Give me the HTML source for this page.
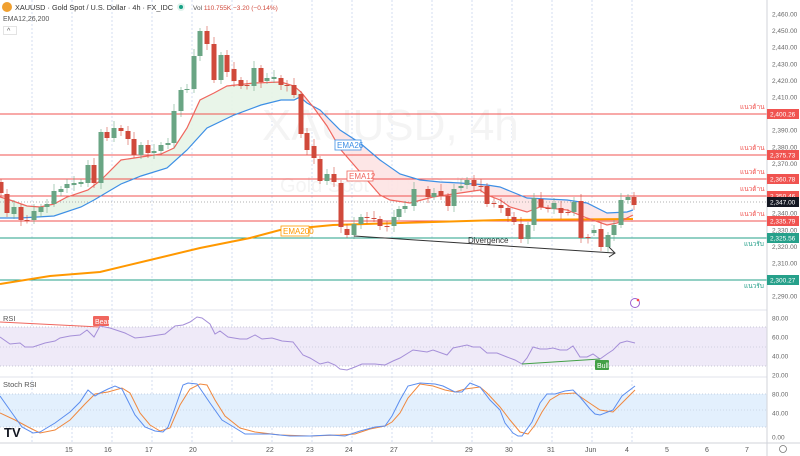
<!DOCTYPE html>
<html><head><meta charset="utf-8"><style>
body{margin:0;background:#fff;width:800px;height:456px;overflow:hidden;font-family:"Liberation Sans","Noto Sans CJK SC",sans-serif}
svg{display:block}
text{font-family:"Liberation Sans","Noto Sans CJK SC",sans-serif}
</style></head><body>
<svg id="s" width="800" height="456" xmlns="http://www.w3.org/2000/svg">
<rect width="800" height="456" fill="#fff"/>
<g id="grid" stroke="#d3ddf0" stroke-dasharray="2,2" stroke-width="1"></g>
<text x="262" y="140" font-size="44" fill="#f4f4f4">XAUUSD, 4h</text>
<text x="280" y="192" font-size="20" fill="#f4f4f4">Gold Spot / U.S. Dollar</text>
<polygon id="fillG" fill="#e7f4e7" opacity="0.9"/>
<polygon id="fillR" fill="#fde3e3" opacity="0.9"/>
<g id="hl"></g>
<line x1="0" y1="202" x2="767" y2="202" stroke="#999" stroke-dasharray="1,2" stroke-width="0.7"/>
<polyline id="e200" fill="none" stroke="#ff9800" stroke-width="2"/>
<polyline id="e26" fill="none" stroke="#3d8fe5" stroke-width="1.2"/>
<polyline id="e12" fill="none" stroke="#f0665e" stroke-width="1.2"/>
<g id="candles"></g>
<line x1="354" y1="236" x2="614" y2="253" stroke="#333" stroke-width="1"/>
<polyline points="609,247 615,253 609,257" fill="none" stroke="#333" stroke-width="1"/>
<text x="468" y="243" font-size="8" fill="#333">Divergence</text>
<rect x="335" y="140" width="26" height="10" fill="#fff" stroke="#3d8fe5" stroke-width="0.8"/>
<text x="337" y="148" font-size="8" fill="#3d8fe5">EMA26</text>
<rect x="347" y="171" width="26" height="10" fill="#fff" stroke="#f0665e" stroke-width="0.8"/>
<text x="349" y="179" font-size="8" fill="#f0665e">EMA12</text>
<rect x="281" y="226" width="28" height="10" fill="#fff" stroke="#ff9800" stroke-width="0.8"/>
<text x="283" y="234" font-size="8" fill="#ff9800">EMA200</text>
<circle cx="635" cy="303" r="4.5" fill="#fff" stroke="#9c5fd0" stroke-width="1"/>
<circle cx="638" cy="300" r="1.3" fill="#f44"/>
<line x1="0" y1="310" x2="767" y2="310" stroke="#e0e3eb"/>
<rect x="0" y="327" width="767" height="39" fill="#efeaf8"/>
<line x1="0" y1="327" x2="767" y2="327" stroke="#b8b8c8" stroke-dasharray="1,2" stroke-width="0.7"/>
<line x1="0" y1="347" x2="767" y2="347" stroke="#c8c8d8" stroke-dasharray="1,2" stroke-width="0.7"/>
<line x1="0" y1="366" x2="767" y2="366" stroke="#b8b8c8" stroke-dasharray="1,2" stroke-width="0.7"/>
<text x="3" y="321" font-size="7.5" fill="#555">RSI</text>
<line x1="0" y1="322" x2="100" y2="327" stroke="#f0665e" stroke-width="1"/>
<rect x="93" y="316" width="16" height="10" fill="#f0665e" rx="1"/>
<text x="95" y="324" font-size="7" fill="#fff">Bear</text>
<polyline id="rsi" fill="none" stroke="#a58fd8" stroke-width="1"/>
<line x1="522" y1="364" x2="600" y2="359" stroke="#43a047" stroke-width="1"/>
<rect x="595" y="360" width="14" height="10" fill="#43a047" rx="1"/>
<text x="597" y="368" font-size="7" fill="#fff">Bull</text>
<line x1="0" y1="377" x2="767" y2="377" stroke="#e0e3eb"/>
<rect x="0" y="394" width="767" height="33" fill="#e3f0fd"/>
<line x1="0" y1="394" x2="767" y2="394" stroke="#b8c4d8" stroke-dasharray="1,2" stroke-width="0.7"/>
<line x1="0" y1="410" x2="767" y2="410" stroke="#c8d0e0" stroke-dasharray="1,2" stroke-width="0.7"/>
<line x1="0" y1="427" x2="767" y2="427" stroke="#b8c4d8" stroke-dasharray="1,2" stroke-width="0.7"/>
<text x="3" y="387" font-size="7.5" fill="#555">Stoch RSI</text>
<polyline id="sd" fill="none" stroke="#f0883e" stroke-width="1"/>
<polyline id="sk" fill="none" stroke="#5b8def" stroke-width="1"/>
<text x="4" y="437" font-size="13" font-weight="bold" fill="#131722">TV</text>
<line x1="0" y1="443" x2="800" y2="443" stroke="#d0d3da"/>
<line x1="767" y1="0" x2="767" y2="456" stroke="#d0d3da"/>
<g id="axis" font-size="6.5" fill="#666"></g>
<g id="time" font-size="7" fill="#555"></g>
<circle cx="783" cy="449" r="3.5" fill="none" stroke="#777" stroke-width="0.8"/>
<circle cx="7" cy="7" r="5" fill="#f0a030"/>
<text x="15" y="10" font-size="7.6" fill="#333" textLength="158" lengthAdjust="spacingAndGlyphs">XAUUSD · Gold Spot / U.S. Dollar · 4h · FX_IDC</text>
<circle cx="181" cy="7" r="4" fill="#e0f2ec"/><circle cx="181" cy="7" r="2" fill="#16a085"/>
<text x="193" y="10" font-size="6.5" fill="#555">Vol <tspan fill="#d0493b">110.755K</tspan>  <tspan fill="#d0493b">−3.20 (−0.14%)</tspan></text>
<text x="3" y="21" font-size="7" fill="#555">EMA12,26,200</text>
<rect x="3.5" y="26.5" width="13" height="8" fill="#fff" stroke="#ddd" stroke-width="0.8"/>
<text x="7" y="33" font-size="7" fill="#555">^</text>
</svg>
<script>
const NS="http://www.w3.org/2000/svg";
function el(p,t,a,txt){const e=document.createElementNS(NS,t);for(const k in a)e.setAttribute(k,a[k]);if(txt!=null)e.textContent=txt;document.getElementById(p).appendChild(e);return e;}
for(let x=32;x<=632;x+=40)el("grid","line",{x1:x,y1:0,x2:x,y2:443});
const R="#f05350",G="#26a08a";
[[114],[155],[179],[196],[221]].forEach(([y])=>{
 el("hl","line",{x1:0,y1:y,x2:767,y2:y,stroke:R,"stroke-width":1});
 el("hl","text",{x:740,y:y-5,"font-size":6.5,fill:R},"แนวต้าน");
});
[[238],[280]].forEach(([y])=>{
 el("hl","line",{x1:0,y1:y,x2:767,y2:y,stroke:G,"stroke-width":1});
 el("hl","text",{x:744,y:y+8,"font-size":6.5,fill:G},"แนวรับ");
});
for(let p=2460;p>=2290;p-=10){const y=14+(2460-p)*1.66;el("axis","text",{x:772,y:y+2.5},"2,"+String(p).slice(1)+".00");}
[["80.00",318],["60.00",337],["40.00",356],["20.00",375],["80.00",394],["40.00",413],["0.00",437]].forEach(([t,y])=>el("axis","text",{x:772,y:y+2.5},t));
[[114,"2,400.26",R],[155,"2,375.73",R],[179,"2,360.78",R],[196,"2,350.46",R],[202,"2,347.00","#131722"],[221,"2,335.79",R],[238,"2,325.56",G],[280,"2,300.27",G]].forEach(([y,t,c])=>{
 el("axis","rect",{x:767,y:y-5,width:32,height:10,fill:c});
 el("axis","text",{x:770,y:y+2.5,fill:"#fff"},t);
});
[["15",68],["16",107],["17",148],["20",192],["22",269],["23",309],["24",348],["27",393],["29",468],["30",508],["31",550],["Jun",588],["4",628],["5",668],["6",708],["7",748]].forEach(([t,x])=>el("time","text",{x:x-3,y:452},t));
const C=[[1,182,193],[7,194,213],[14,214,207],[21,207,220],[27,220,220.5],[34,220,211],[41,212,207],[47,207,204],[54,204,191],[61,192,189],[67,188,184],[74,185,183],[81,184,182],[88,183,165],[94,165,183],[101,183,132],[107,132,138],[114,138,128],[121,128,131],[128,131,139],[134,139,155],[141,155,145],[148,145,153],[154,153,151],[161,151,145],[168,145,143],[174,143,111],[181,111,90],[187,90,89],[194,89,56],[200,56,31],[207,31,44],[214,44,80],[221,80,55],[227,55,72],[234,69,81],[241,80,86],[247,85,85.5],[254,86,68],[261,68,82],[267,81,78],[274,79,77],[281,78,85],[287,85,85.5],[294,85,95],[301,94,134],[307,133,150],[314,146,158],[320,159,181],[327,181,174],[334,174,182],[341,183,227],[347,229,235],[354,235,224],[361,224,217],[367,217,217.5],[374,218,219],[380,219,226],[387,226,226.5],[394,226,217],[399,217,209],[405,209,206],[414,206,189],[428,189,197],[434,197,193],[441,191,196],[448,196,206],[454,206,189],[461,188,186],[467,185,180],[474,180,186],[481,186,186.5],[487,186,204],[494,203,203.5],[501,205,208],[508,208,216],[514,217,222],[521,224,239],[528,239,225],[534,225,198],[541,199,207],[548,208,208.5],[554,209,203],[561,208,213],[568,212,212.5],[574,212,202],[581,201,238],[588,237,237.5],[594,233,230],[601,229,247],[608,247,235],[614,235,225],[621,225,200],[628,200,197],[634,197,205]];
const GC="#6aa584",RC="#d0493b";
C.forEach(([x,o,c],i)=>{const up=c<o;const col=up?GC:RC;const top=Math.min(o,c),bot=Math.max(o,c);
 const w1=top-3-(i%3)*2,w2=bot+3+(i%4);
 el("candles","line",{x1:x,y1:w1,x2:x,y2:w2,stroke:col,"stroke-width":0.8,opacity:0.7});
 el("candles","rect",{x:x-2.5,y:top,width:5,height:Math.max(1,bot-top),fill:col});
});
const pts=a=>a.map(p=>p.join(",")).join(" ");
const e12=[[0,197],[10,200],[27,206],[40,207],[54,204],[67,197],[88,190],[101,180],[121,160],[141,157],[161,154],[174,148],[187,128],[200,100],[214,93],[227,86],[254,83],[281,82],[294,86],[301,92],[314,108],[327,126],[341,150],[354,165],[367,180],[380,195],[390,200],[410,203],[433,197],[467,192],[480,190],[487,195],[500,200],[510,207],[527,212],[540,207],[567,210],[587,218],[607,225],[617,223],[633,215]];
const e26=[[0,218],[20,218],[54,216],[81,207],[94,200],[121,184],[141,176],[167,168],[187,150],[207,128],[234,115],[261,105],[281,100],[294,100],[300,97],[307,103],[320,110],[340,130],[360,143],[380,160],[400,174],[420,180],[440,182],[460,183],[487,185],[500,187],[527,198],[567,200],[587,203],[607,213],[627,212],[633,210]];
const e200=[[0,284],[50,276],[100,272],[150,260],[200,248],[250,238],[280,230],[333,225],[400,223],[500,220],[633,219]];
document.getElementById("e12").setAttribute("points",pts(e12));
document.getElementById("e26").setAttribute("points",pts(e26));
document.getElementById("e200").setAttribute("points",pts(e200));
function interp(a,x){for(let i=1;i<a.length;i++)if(a[i][0]>=x){const[x0,y0]=a[i-1],[x1,y1]=a[i];return y0+(y1-y0)*(x-x0)/(x1-x0||1);}return a[a.length-1][1];}
function band(x0,x1){const t=[],b=[];for(let x=x0;x<=x1;x+=2){t.push([x,interp(e12,x)]);b.push([x,interp(e26,x)]);}return pts(t.concat(b.reverse()));}
document.getElementById("fillG").setAttribute("points",band(0,302));
document.getElementById("fillR").setAttribute("points",band(302,633));
const rsi=[[0,337],[10,344],[20,343],[25,347],[33,347],[45,343],[55,341],[60,338],[70,336],[80,335],[87,330],[94,337],[100,326],[110,328],[125,333],[135,338],[145,337],[165,334],[175,326],[183,325],[190,322],[197,317],[202,318],[210,324],[215,334],[220,331],[228,337],[240,339],[247,339],[255,335],[262,339],[272,338],[282,341],[293,342],[303,355],[310,358],[320,364],[328,362],[335,365],[340,369],[347,370],[355,367],[362,364],[375,364],[385,365],[393,361],[400,358],[413,350],[420,351],[427,352],[433,350],[447,355],[453,348],[467,345],[473,347],[480,347],[487,353],[497,353],[507,357],[515,360],[522,364],[527,358],[533,347],[540,349],[547,349],[553,348],[560,350],[567,350],[573,346],[580,357],[587,357],[593,354],[600,359],[607,354],[613,350],[620,343],[627,341],[635,343]];
document.getElementById("rsi").setAttribute("points",pts(rsi));
const sk=[[0,396],[12,413],[22,427],[33,433],[40,432],[55,423],[70,412],[80,402],[88,390],[95,396],[100,393],[108,389],[115,386],[122,389],[135,415],[145,427],[155,431],[163,432],[168,427],[175,408],[183,385],[188,383],[197,384],[210,403],[222,420],[232,426],[245,434],[255,434],[270,434],[290,436],[310,436],[330,435],[345,436],[360,431],[375,427],[385,426],[392,416],[400,400],[408,386],[420,383],[435,384],[443,386],[455,392],[462,392],[470,383],[480,387],[490,400],[500,410],[505,423],[513,433],[518,436],[522,436],[532,422],[540,403],[547,394],[555,394],[565,391],[573,390],[580,397],[590,409],[595,414],[600,415],[613,410],[622,396],[635,386]];
const sd=[[0,413],[15,420],[30,428],[40,433],[55,430],[70,420],[85,404],[95,394],[108,392],[122,388],[130,393],[140,413],[150,425],[160,431],[170,428],[180,405],[190,389],[200,384],[207,385],[215,400],[225,416],[240,428],[255,432],[280,435],[310,436],[340,435],[355,434],[370,429],[385,426],[392,422],[400,413],[408,398],[420,384],[433,386],[445,390],[455,392],[465,389],[480,387],[487,393],[500,407],[510,420],[520,432],[528,434],[535,425],[542,412],[550,400],[560,394],[575,393],[588,402],[600,410],[613,412],[620,405],[635,390]];
document.getElementById("sk").setAttribute("points",pts(sk));
document.getElementById("sd").setAttribute("points",pts(sd));
</script>
</body></html>
